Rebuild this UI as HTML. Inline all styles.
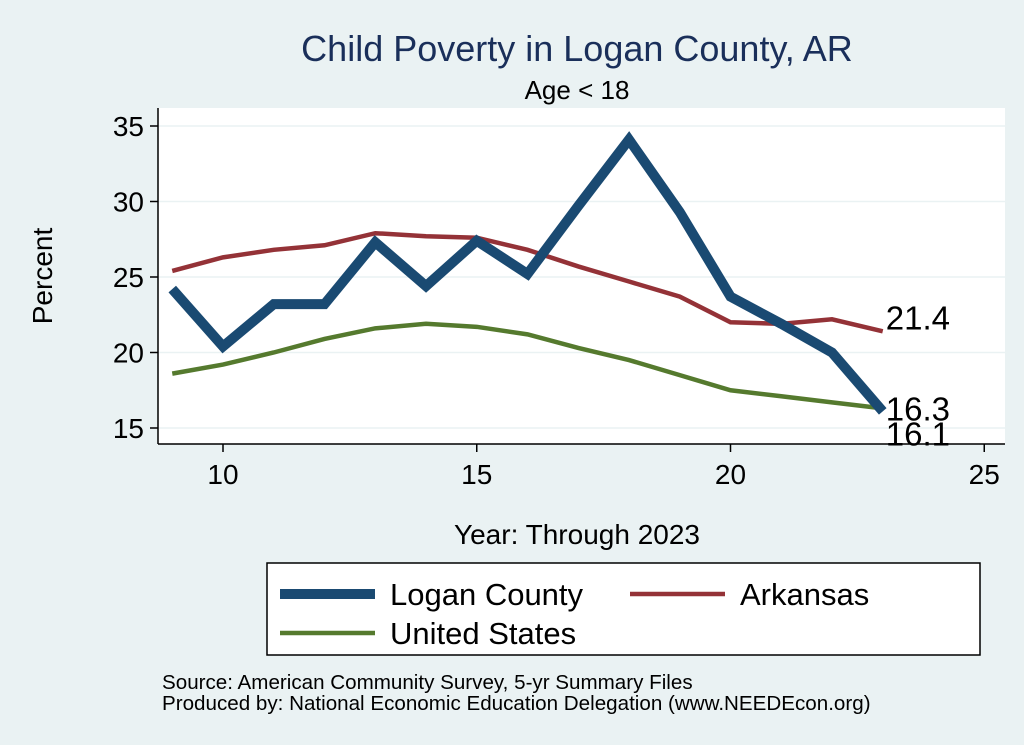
<!DOCTYPE html>
<html><head><meta charset="utf-8"><style>
body{margin:0;background:#eaf2f3;}
svg{display:block;font-family:"Liberation Sans",Arial,sans-serif;}
</style></head><body>
<svg id="chart" width="1024" height="745" viewBox="0 0 1024 745">
<rect x="0" y="0" width="1024" height="745" fill="#eaf2f3"/>
<text x="577" y="61" font-size="36" fill="#1a2f5a" text-anchor="middle">Child Poverty in Logan County, AR</text>
<text x="577" y="99" font-size="26" fill="#000" text-anchor="middle">Age &lt; 18</text>
<rect x="158" y="108" width="847" height="336" fill="#fff"/>
<g id="grid"></g>
<g id="axes"></g>
<g id="series"></g>
<text x="52" y="276" font-size="28" text-anchor="middle" transform="rotate(-90 52 276)">Percent</text>
<text x="577" y="544" font-size="28" text-anchor="middle">Year: Through 2023</text>
<g>
<rect x="267" y="563" width="713" height="92" fill="#fff" stroke="#000" stroke-width="1.5"/>
<line x1="280" y1="594" x2="375" y2="594" stroke="#1a4a72" stroke-width="10"/>
<text x="390" y="605" font-size="31">Logan County</text>
<line x1="630" y1="594" x2="725" y2="594" stroke="#943237" stroke-width="4.5"/>
<text x="740" y="605" font-size="31">Arkansas</text>
<line x1="280" y1="633" x2="375" y2="633" stroke="#557a2e" stroke-width="4.5"/>
<text x="390" y="644" font-size="31">United States</text>
</g>
<text x="162" y="689" font-size="20.6">Source: American Community Survey, 5-yr Summary Files</text>
<text x="162" y="710" font-size="20.6">Produced by: National Economic Education Delegation (www.NEEDEcon.org)</text>
</svg>
<script>
const years=[9,10,11,12,13,14,15,16,17,18,19,20,21,22,23];
const logan=[24.2,20.4,23.2,23.2,27.3,24.4,27.4,25.2,29.7,34.1,29.3,23.7,21.9,20.0,16.1];
const arkansas=[25.4,26.3,26.8,27.1,27.9,27.7,27.6,26.8,25.7,24.7,23.7,22.0,21.9,22.2,21.4];
const us=[18.6,19.2,20.0,20.9,21.6,21.9,21.7,21.2,20.3,19.5,18.5,17.5,17.1,16.7,16.3];
const xTicks=[10,15,20,25];
const yTicks=[15,20,25,30,35];
const NS="http://www.w3.org/2000/svg";
function sx(v){return 223+(v-10)*50.75;}
function sy(v){return 428-(v-15)*15.1;}
function mk(tag,attrs,parent,text){const e=document.createElementNS(NS,tag);for(const k in attrs)e.setAttribute(k,attrs[k]);if(text!==undefined)e.textContent=text;parent.appendChild(e);return e;}
const grid=document.getElementById('grid'),axes=document.getElementById('axes'),ser=document.getElementById('series');
yTicks.forEach(t=>{
 const g=mk('line',{x1:158,x2:1005,y1:sy(t),y2:sy(t),stroke:'#eaf2f3','stroke-width':1.5},grid);
 
 
 const tk=mk('line',{x1:150,x2:158,y1:sy(t),y2:sy(t),stroke:'#000','stroke-width':1.5},axes);
 
 
 const l=mk('text',{x:144,y:sy(t)+10,'font-size':28,'text-anchor':'end'},axes,t);
 
 
});
xTicks.forEach(t=>{
 const tk=mk('line',{x1:sx(t),x2:sx(t),y1:444,y2:452,stroke:'#000','stroke-width':1.5},axes);
 
 
 const l=mk('text',{x:sx(t),y:484,'font-size':28,'text-anchor':'middle'},axes,t);
 
 
});
const ya=mk('line',{x1:158,x2:158,y1:108,y2:444,stroke:'#000','stroke-width':1.5},axes);


const xa=mk('line',{x1:158,x2:1005,y1:444,y2:444,stroke:'#000','stroke-width':1.5},axes);


function line(vals,color,w,name){
 const d=vals.map((v,i)=>(i?'L':'M')+sx(years[i])+' '+sy(v)).join(' ');
 const p=mk('path',{d:d,fill:'none',stroke:color,'stroke-width':w,'stroke-linejoin':'miter'},ser);
 
 
}
line(us,'#557a2e',4.5,'line-united-states');
line(arkansas,'#943237',4.5,'line-arkansas');
line(logan,'#1a4a72',10,'line-logan-county');
const n=years.length-1;
[[arkansas,'end-label-arkansas',-12],[us,'end-label-us',2],[logan,'end-label-logan',24]].forEach(([arr,name,off])=>{
 const t=mk('text',{x:sx(years[n])+3,y:sy(arr[n])+10+off,'font-size':33},ser,arr[n].toFixed(1));
 
 
});
</script>
</body></html>
